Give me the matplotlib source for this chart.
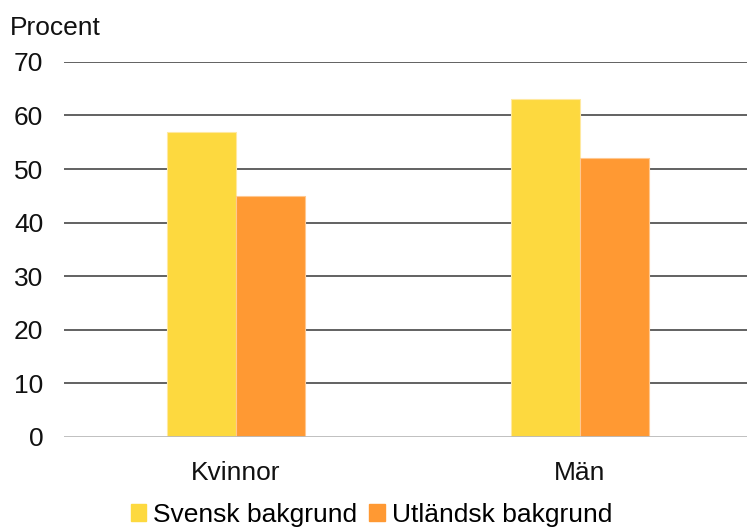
import numpy as np
import matplotlib
matplotlib.use("Agg")
import matplotlib.pyplot as plt
from matplotlib.patches import Patch

plt.rcParams['font.family'] = ['Liberation Sans', 'DejaVu Sans']

# data
categories = ['Kvinnor', 'Män']
series_names = ['Svensk bakgrund', 'Utländsk bakgrund']
svensk = [57, 63]
utlandsk = [45, 52]
yticks = [0, 10, 20, 30, 40, 50, 60, 70]

colors = ['#FDD93F', '#FF9933']

fig = plt.figure(figsize=(7.47, 5.29), dpi=100)
ax = fig.add_axes([0.0857, 0.174, 0.921, 0.709])

x = np.arange(len(categories))
w = 0.2
ax.bar(x - w / 2, svensk, w, color=colors[0], edgecolor='#FFE9A0', linewidth=0.8, zorder=3)
ax.bar(x + w / 2, utlandsk, w, color=colors[1], edgecolor='#FFC890', linewidth=0.8, zorder=3)

# gridlines
for t in yticks[1:]:
    ax.axhline(t, color='#555555', linewidth=1.3, zorder=1)
ax.axhline(0, color='#BBBBBB', linewidth=1.3, zorder=4)

ax.set_xlim(-0.5, 1.5)
ax.set_ylim(0, 70)
ax.set_yticks(yticks)
ax.set_xticks(x)
ax.set_xticklabels(categories)
for s in ax.spines.values():
    s.set_visible(False)
ax.tick_params(axis='both', length=0, labelsize=19, colors='#111111')
ax.tick_params(axis='y', pad=15)
ax.tick_params(axis='x', pad=17)
for lbl in ax.get_yticklabels():
    lbl.set_horizontalalignment('right')

fig.text(0.013, 0.948, 'Procent', fontsize=19, color='#111111', va='center')

handles = [Patch(color=c) for c in colors]
fig.legend(handles, series_names, loc='center', bbox_to_anchor=(0.497, 0.027),
           ncol=2, frameon=False, fontsize=19, handlelength=0.6, handleheight=0.6,
           handletextpad=0.25, columnspacing=0.45, borderpad=0)

fig.savefig('out.png', dpi=100)
